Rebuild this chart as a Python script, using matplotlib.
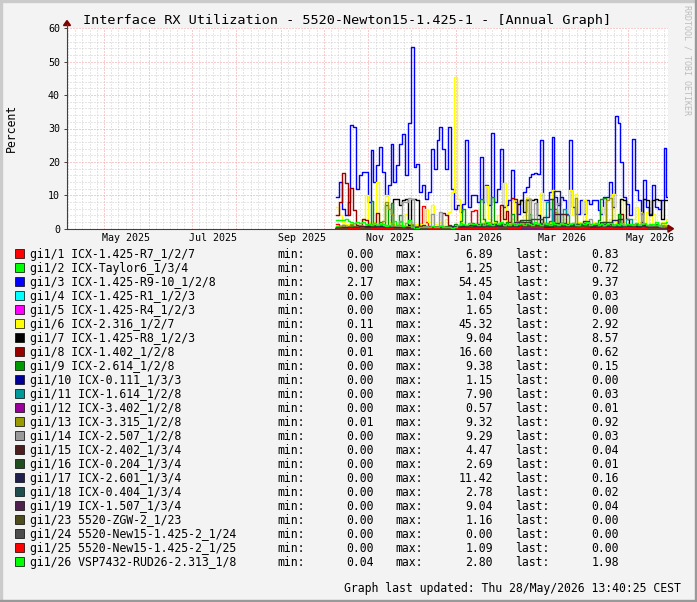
import numpy as np
import matplotlib
matplotlib.use("Agg")
import matplotlib.pyplot as plt
from matplotlib.patches import Rectangle, Polygon
from matplotlib.lines import Line2D
from matplotlib.ticker import MultipleLocator
import matplotlib.dates as mdates

# ---- data ----
series_start = np.datetime64('2025-10-09T12:00')
view_start = np.datetime64('2025-04-05T06:00')
view_end = np.datetime64('2026-05-28T13:40')

# 2-day samples
gi1_1 = [1.5, 0.8, 1.2, 0.5, 0.9, 0.6, 1.1, 0.4, 0.7, 0.5,
         0.8, 0.4, 0.6, 0.9, 0.5, 0.7, 0.4, 0.6, 0.3, 0.5,
         0.4, 0.7, 0.5, 0.3, 0.6, 0.4, 0.5, 0.3, 0.8, 1.5,
         6.89, 2.0, 0.6, 0.4, 0.5, 0.3, 0.4, 0.6, 0.3, 0.5,
         0.4, 0.2, 0.3, 0.5, 0.4, 0.6, 0.8, 5.4, 5.5, 0.7,
         0.5, 0.9, 0.6, 0.4, 0.7, 0.5, 1.0, 0.6, 0.8, 0.5,
         0.7, 1.2, 0.6, 0.9, 0.5, 0.7, 0.4, 0.8, 0.6, 1.1,
         0.5, 0.7, 0.9, 0.6, 0.4, 0.8, 0.5, 0.7, 1.0, 0.6,
         0.4, 0.9, 0.5, 0.7, 0.6, 0.8, 0.5, 0.4, 0.9, 0.6,
         0.7, 0.5, 1.1, 0.6, 0.8, 0.4, 0.7, 0.5, 0.9, 0.6,
         0.8, 0.5, 0.7, 0.4, 0.6, 0.9, 0.5, 0.7, 0.6, 0.8,
         0.5, 0.7, 0.6, 0.9, 0.7, 0.83]
gi1_3 = [9.5, 14, 6, 4, 8, 31, 30.5, 12, 16, 17,
         17, 8, 23.5, 14, 19, 24.5, 17, 10, 13, 25.5,
         14, 19, 25.5, 28.5, 16, 31.5, 54.45, 18.5, 19.5, 11,
         13, 9, 11, 24, 18, 26.5, 30.5, 24, 18, 30.5,
         12, 6, 7, 5, 7.5, 26.5, 6.5, 10, 10, 8,
         21.5, 8, 13, 7, 28.7, 8, 12, 24, 6.5, 7,
         8.5, 17.7, 8, 4.5, 8.5, 11, 12.5, 15.5, 16.5, 16.8,
         16.5, 26.7, 8.5, 8.5, 11, 27.5, 9.5, 7, 9.5, 8.5,
         4.5, 26.5, 6.5, 4.5, 4.5, 8.5, 4.5, 8.5, 7.5, 8.5,
         8.5, 5.5, 4.5, 9.5, 9.5, 14, 6.5, 33.7, 31.5, 20,
         9.5, 7.5, 4, 27, 11.5, 8.5, 4.5, 14.6, 6.5, 4.5,
         13, 6.5, 6, 8.5, 24.3, 9.37]
gi1_6 = [6.6, 4, 2, 1.5, 1, 1, 1, 1, 1, 3,
         10, 2, 1, 2, 14, 1.5, 1, 10, 2, 1.5,
         1.5, 1.5, 1, 1, 4.5, 1.5, 1.5, 1.5, 1.5, 1.5,
         1, 6, 2, 7, 1.5, 1, 2, 1, 3, 5,
         11, 45.32, 9, 2, 1.5, 1, 1, 1, 1, 1,
         3, 2, 12.7, 3, 1.5, 2, 4, 1.5, 13.6, 2,
         1.5, 3, 9, 2, 1.5, 4, 9.5, 2, 1, 3,
         1.5, 10.6, 2, 1, 2, 11.5, 3, 2, 1.5, 3,
         2, 11.5, 4, 10.5, 2, 1.5, 8.5, 2, 1, 2,
         1.5, 1, 6.5, 1.5, 2, 3, 10.5, 2, 1.5, 9,
         2, 1, 1.5, 3, 6.5, 2, 5, 1.5, 5, 1,
         4.5, 1.5, 1, 2, 1.5, 2.92]
gi1_7 = [0.1, 0.2, 0.1, 0.3, 0.1, 0.2, 0.1, 0.2, 0.3, 0.1,
         0.2, 0.1, 0.3, 0.2, 0.1, 0.2, 0.1, 0.3, 0.2, 0.5,
         8.9, 8.8, 7.0, 8.7, 8.8, 1.0, 8.8, 9.04, 8.5, 0.5,
         0.2, 0.1, 0.2, 0.3, 0.1, 0.2, 0.1, 0.0, 0.1, 0.2,
         0.1, 0.2, 0.1, 0.3, 0.2, 0.1, 0.2, 0.1, 0.3, 0.2,
         0.1, 0.2, 0.4, 0.2, 0.1, 0.3, 0.2, 0.5, 0.3, 0.2,
         0.4, 0.6, 1.0, 7.5, 8.5, 5.0, 8.5, 8.8, 8.6, 8.9,
         4.0, 1.0, 0.3, 0.2, 0.4, 0.3, 0.2, 0.5, 0.3, 0.2,
         0.4, 0.3, 0.2, 0.5, 0.3, 0.2, 0.4, 0.3, 0.6, 0.2,
         0.3, 0.4, 0.2, 0.3, 0.5, 0.2, 0.3, 0.4, 1.0, 8.9,
         8.5, 3.0, 0.4, 0.3, 0.5, 0.8, 2.0, 8.8, 8.7, 4.0,
         8.6, 8.9, 8.7, 3.0, 8.6, 8.57]
gi1_8 = [4.0, 8.0, 16.6, 13.6, 4.0, 12.3, 5.6, 1.0, 0.5, 3.0,
         2.5, 0.8, 0.6, 1.2, 4.6, 0.7, 0.5, 0.9, 0.4, 0.6,
         0.3, 0.5, 0.4, 0.2, 0.6, 0.3, 0.4, 0.5, 0.3, 0.8,
         1.2, 0.5, 0.7, 0.4, 0.6, 0.3, 0.9, 4.6, 4.0, 1.0,
         0.5, 0.3, 0.01, 0.4, 0.6, 0.3, 0.5, 1.4, 0.7, 0.4,
         0.9, 0.6, 1.8, 0.5, 0.8, 1.1, 0.6, 7.0, 3.0, 5.4,
         2.0, 9.1, 8.8, 2.0, 0.9, 1.3, 0.6, 0.8, 1.5, 0.7,
         1.0, 0.5, 0.8, 1.2, 0.6, 0.9, 0.5, 0.7, 1.1, 0.6,
         0.8, 0.5, 0.9, 0.6, 1.3, 0.7, 0.5, 0.8, 0.6, 1.0,
         0.5, 0.7, 0.9, 0.6, 0.8, 0.5, 1.2, 0.7, 0.6, 4.5,
         0.9, 0.6, 0.8, 0.5, 0.7, 1.0, 0.6, 0.8, 0.5, 0.9,
         0.7, 0.6, 0.8, 0.5, 0.7, 0.62]
gi1_9 = [0.2, 0.3, 0.5, 0.3, 0.4, 1.2, 0.6, 0.3, 0.8, 0.4,
         0.5, 1.5, 8.3, 0.6, 0.4, 2.1, 0.5, 7.1, 0.8, 7.6,
         0.9, 0.4, 4.0, 0.6, 0.3, 0.5, 1.1, 0.4, 0.3, 0.2,
         0.3, 0.4, 0.6, 0.3, 0.2, 0.5, 0.4, 0.3, 0.6, 0.8,
         0.5, 1.4, 0.7, 2.2, 6.0, 0.9, 0.6, 1.8, 0.7, 1.1,
         8.8, 3.0, 0.8, 1.5, 9.38, 2.4, 0.6, 1.2, 0.9, 2.0,
         0.7, 4.5, 1.0, 0.6, 1.9, 0.8, 1.3, 4.5, 0.7, 1.0,
         0.5, 1.6, 0.8, 0.6, 2.3, 8.8, 6.0, 0.9, 0.7, 1.2,
         0.6, 1.4, 0.8, 0.5, 1.1, 0.7, 1.7, 0.6, 0.9, 1.3,
         0.7, 2.5, 9.0, 9.3, 1.2, 0.8, 0.6, 1.5, 4.5, 0.9,
         0.7, 1.2, 0.6, 0.9, 1.4, 0.5, 0.8, 1.1, 0.6, 0.9,
         0.5, 1.3, 0.7, 0.4, 0.6, 0.15]
gi1_11 = [0.2, 0.1, 0.3, 0.2, 0.1, 0.4, 0.2, 0.1, 0.3, 0.2,
          0.1, 0.2, 0.3, 0.1, 0.2, 0.4, 0.1, 0.2, 0.3, 0.2,
          0.1, 0.2, 0.1, 0.3, 0.2, 0.1, 0.2, 0.3, 0.1, 0.2,
          0.1, 0.2, 0.1, 0.3, 0.1, 0.2, 0.1, 0.2, 0.1, 0.1,
          0.2, 0.1, 0.3, 0.2, 0.4, 0.2, 0.3, 0.5, 0.2, 0.3,
          0.6, 0.2, 0.4, 0.3, 0.8, 0.3, 0.5, 0.2, 0.4, 0.6,
          0.3, 0.5, 0.2, 0.4, 1.2, 0.3, 0.5, 0.4, 0.6, 0.3,
          0.5, 0.4, 1.5, 7.9, 6.0, 0.6, 0.4, 0.3, 0.5, 5.9,
          4.0, 0.4, 0.3, 0.6, 0.4, 0.3, 0.5, 0.4, 0.3, 0.6,
          0.4, 0.3, 0.5, 0.4, 0.3, 0.6, 0.4, 0.3, 0.5, 0.4,
          0.6, 3.0, 3.0, 0.4, 0.3, 0.5, 0.4, 0.3, 0.2, 0.4,
          0.3, 0.2, 0.3, 0.1, 0.2, 0.03]
gi1_13 = [0.5, 0.8, 1.2, 0.6, 0.9, 1.5, 0.7, 0.4, 1.1, 0.6,
          0.8, 0.5, 1.3, 0.7, 1.0, 0.6, 2.2, 8.0, 6.0, 4.5,
          0.8, 0.5, 1.2, 0.7, 0.9, 0.6, 1.4, 0.8, 0.5, 0.3,
          0.4, 0.2, 0.5, 0.3, 0.6, 0.4, 0.3, 0.5, 0.2, 0.4,
          0.3, 0.01, 0.5, 0.8, 1.1, 0.6, 0.9, 1.3, 0.7, 1.0,
          0.6, 1.5, 0.8, 2.0, 0.7, 1.2, 0.9, 1.6, 0.8, 1.1,
          0.7, 1.4, 0.9, 2.3, 1.0, 1.8, 9.0, 1.2, 0.8, 1.5,
          0.9, 1.1, 0.7, 1.6, 1.3, 2.0, 5.0, 1.1, 4.5, 0.9,
          1.2, 0.8, 1.7, 9.1, 1.0, 0.7, 1.3, 0.9, 1.5, 0.8,
          1.1, 0.7, 1.4, 2.1, 8.5, 9.32, 1.0, 0.8, 1.6, 0.9,
          1.2, 0.7, 1.0, 1.4, 0.8, 1.1, 0.6, 1.3, 0.9, 1.0,
          0.7, 1.2, 0.8, 1.0, 0.9, 0.92]
gi1_14 = [0.1, 0.3, 0.2, 0.5, 0.3, 0.2, 0.4, 0.3, 0.6, 0.2,
          0.3, 0.5, 0.4, 0.8, 0.3, 0.6, 0.4, 1.2, 0.5, 0.7,
          0.4, 0.9, 2.0, 8.0, 8.0, 9.29, 9.0, 0.6, 0.4, 0.5,
          0.3, 0.7, 0.5, 4.5, 0.6, 0.4, 5.0, 0.5, 0.3, 0.4,
          0.2, 0.3, 0.5, 0.4, 0.3, 0.6, 0.4, 0.5, 0.3, 0.8,
          0.6, 1.1, 0.5, 0.7, 1.3, 0.6, 0.9, 1.8, 0.7, 1.2,
          0.6, 0.9, 1.5, 0.8, 2.4, 0.7, 1.1, 9.0, 1.6, 7.6,
          0.9, 0.6, 1.3, 0.8, 0.5, 1.0, 0.7, 7.6, 0.9, 0.6,
          1.2, 0.7, 0.5, 0.9, 1.4, 0.6, 0.8, 1.1, 3.0, 0.7,
          0.5, 0.9, 0.6, 1.2, 0.8, 0.5, 0.7, 1.0, 0.6, 0.8,
          0.5, 0.9, 0.7, 1.1, 0.6, 0.8, 4.6, 0.7, 0.5, 0.9,
          0.6, 0.4, 0.7, 0.5, 0.3, 0.03]
gi1_26 = [2.6, 2.7, 2.5, 2.8, 2.2, 2.0, 1.8, 2.1, 1.6, 1.9,
          1.5, 1.4, 1.2, 1.6, 1.1, 1.3, 1.5, 0.9, 1.2, 1.7,
          2.2, 1.0, 2.4, 0.8, 1.6, 2.6, 0.4, 0.04, 0.3, 0.5,
          0.4, 0.6, 0.5, 0.7, 0.6, 0.5, 0.8, 0.6, 0.4, 0.5,
          0.3, 0.4, 1.2, 1.6, 1.4, 1.1, 1.8, 1.3, 1.5, 1.0,
          1.7, 1.2, 2.0, 1.4, 1.1, 1.6, 1.3, 1.9, 1.0, 1.5,
          1.2, 1.8, 1.1, 1.4, 1.6, 1.0, 1.7, 1.3, 1.2, 2.1,
          1.4, 1.0, 1.6, 1.5, 1.1, 1.9, 1.3, 1.2, 1.7, 1.4,
          1.0, 1.5, 1.8, 1.2, 1.1, 1.6, 1.3, 1.9, 1.0, 1.4,
          1.7, 1.2, 1.5, 1.1, 1.3, 1.6, 1.0, 1.4, 1.2, 1.8,
          1.1, 1.5, 1.3, 1.0, 1.6, 1.2, 1.4, 1.7, 1.1, 1.5,
          1.3, 1.9, 1.2, 1.6, 1.8, 1.98]

# 4-day samples
gi1_2 = [0.9, 1.1, 0.8, 1.25, 0.7, 0.9, 0.6, 0.8, 0.5, 0.7,
         0.4, 0.6, 0.3, 0.5, 0.4, 0.6, 0.3, 0.5, 0.4, 0.7,
         0.6, 0.8, 0.5, 0.9, 0.7, 1.0, 0.6, 0.8, 0.7, 1.1,
         0.6, 0.9, 0.7, 0.8, 1.0, 0.6, 0.9, 0.7, 1.1, 0.8,
         0.6, 0.9, 0.7, 1.0, 0.8, 0.6, 0.9, 0.7, 1.0, 0.8,
         0.6, 0.9, 0.7, 0.8, 1.0, 0.7, 0.8, 0.72]
gi1_17 = [0.2, 0.4, 0.3, 0.6, 0.2, 0.5, 0.3, 0.8, 0.4, 0.3,
          0.5, 0.2, 0.4, 0.6, 0.3, 0.5, 0.2, 0.4, 0.3, 0.5,
          0.7, 0.4, 0.9, 0.5, 1.2, 0.6, 0.8, 1.5, 0.7, 1.0,
          0.6, 0.9, 0.5, 1.8, 0.7, 1.1, 0.6, 0.9, 11.42, 0.8,
          0.5, 1.3, 0.7, 0.9, 0.6, 1.1, 0.5, 0.8, 2.5, 0.6,
          0.9, 0.5, 0.7, 1.2, 0.6, 0.4, 0.3, 0.16]
gi1_19 = [0.1, 0.3, 0.2, 0.5, 0.3, 0.2, 0.4, 0.3, 0.2, 0.1,
          0.2, 0.1, 0.3, 0.2, 0.4, 0.3, 0.2, 0.5, 0.3, 0.6,
          0.4, 0.8, 0.5, 1.1, 0.7, 1.4, 0.6, 0.9, 0.5, 1.2,
          0.8, 2.0, 0.7, 1.0, 0.6, 1.5, 3.5, 9.04, 1.2, 0.8,
          0.6, 1.0, 0.7, 2.2, 0.9, 0.6, 1.3, 0.8, 0.5, 3.0,
          0.7, 0.9, 0.5, 0.8, 0.6, 0.4, 0.2, 0.04]

# 8-day samples
gi1_4 = [0.2, 0.4, 0.3, 0.5, 0.2, 0.3, 0.1, 0.2, 0.1, 0.3, 0.2, 0.4, 0.3, 0.6, 0.4,
         1.04, 0.5, 0.3, 0.6, 0.4, 0.3, 0.5, 0.2, 0.4, 0.3, 0.2, 0.3, 0.1, 0.03]
gi1_5 = [0.1, 0.3, 0.2, 0.5, 0.3, 0.2, 0.1, 0.2, 0.1, 0.1, 0.3, 0.2, 0.4, 0.3, 0.6,
         0.4, 1.65, 0.5, 0.3, 0.4, 0.2, 0.3, 0.2, 0.4, 0.3, 0.2, 0.1, 0.1, 0.0]
gi1_10 = [0.1, 0.2, 0.4, 0.3, 0.2, 0.1, 0.1, 0.0, 0.1, 0.2, 0.1, 0.3, 0.2, 0.5, 0.3,
          0.4, 0.2, 1.15, 0.3, 0.2, 0.4, 0.3, 0.2, 0.1, 0.3, 0.2, 0.1, 0.1, 0.0]
gi1_12 = [0.1, 0.2, 0.1, 0.3, 0.2, 0.1, 0.1, 0.0, 0.1, 0.1, 0.2, 0.1, 0.3, 0.2, 0.57,
          0.3, 0.2, 0.1, 0.3, 0.2, 0.1, 0.2, 0.1, 0.2, 0.1, 0.2, 0.1, 0.1, 0.01]
gi1_15 = [0.3, 0.5, 0.8, 0.4, 0.6, 0.3, 0.2, 0.1, 0.2, 0.4, 0.3, 0.6, 1.5, 0.8, 1.2,
          0.7, 2.1, 0.9, 0.6, 4.47, 1.0, 0.7, 0.5, 1.3, 0.8, 0.6, 0.9, 0.4, 0.04]
gi1_16 = [0.2, 0.5, 0.3, 0.8, 0.4, 0.2, 0.1, 0.1, 0.2, 0.3, 0.5, 0.4, 0.9, 0.6, 1.4,
          0.8, 2.69, 1.1, 0.7, 1.6, 0.9, 1.3, 0.6, 2.0, 0.8, 0.5, 0.7, 0.3, 0.01]
gi1_18 = [0.1, 0.3, 0.2, 0.6, 0.3, 0.1, 0.1, 0.0, 0.2, 0.3, 0.2, 0.5, 0.4, 0.9, 0.6,
          1.2, 0.8, 2.78, 1.0, 0.7, 1.5, 0.8, 1.1, 0.6, 0.9, 0.4, 0.3, 0.2, 0.02]
gi1_23 = [0.1, 0.2, 0.1, 0.3, 0.2, 0.1, 0.0, 0.0, 0.1, 0.2, 0.1, 0.3, 0.2, 0.4, 0.3,
          0.6, 0.4, 0.8, 1.16, 0.5, 0.4, 0.7, 0.3, 0.5, 0.2, 0.4, 0.2, 0.1, 0.0]
gi1_24 = [0.0, 0.0, 0.0, 0.0, 0.0, 0.0, 0.0, 0.0, 0.0, 0.0, 0.0, 0.0, 0.0, 0.0, 0.0,
          0.0, 0.0, 0.0, 0.0, 0.0, 0.0, 0.0, 0.0, 0.0, 0.0, 0.0, 0.0, 0.0, 0.0]
gi1_25 = [0.0, 0.1, 0.0, 0.2, 0.1, 0.0, 0.0, 0.0, 0.1, 0.0, 0.2, 0.1, 0.3, 0.2, 0.5,
          0.3, 1.09, 0.4, 0.2, 0.3, 0.1, 0.2, 0.1, 0.3, 0.1, 0.2, 0.1, 0.0, 0.0]

ports = ['gi1/1', 'gi1/2', 'gi1/3', 'gi1/4', 'gi1/5', 'gi1/6', 'gi1/7', 'gi1/8',
         'gi1/9', 'gi1/10', 'gi1/11', 'gi1/12', 'gi1/13', 'gi1/14', 'gi1/15',
         'gi1/16', 'gi1/17', 'gi1/18', 'gi1/19', 'gi1/23', 'gi1/24', 'gi1/25', 'gi1/26']
descr = ['ICX-1.425-R7_1/2/7', 'ICX-Taylor6_1/3/4', 'ICX-1.425-R9-10_1/2/8',
         'ICX-1.425-R1_1/2/3', 'ICX-1.425-R4_1/2/3', 'ICX-2.316_1/2/7',
         'ICX-1.425-R8_1/2/3', 'ICX-1.402_1/2/8', 'ICX-2.614_1/2/8',
         'ICX-0.111_1/3/3', 'ICX-1.614_1/2/8', 'ICX-3.402_1/2/8',
         'ICX-3.315_1/2/8', 'ICX-2.507_1/2/8', 'ICX-2.402_1/3/4',
         'ICX-0.204_1/3/4', 'ICX-2.601_1/3/4', 'ICX-0.404_1/3/4',
         'ICX-1.507_1/3/4', '5520-ZGW-2_1/23', '5520-New15-1.425-2_1/24',
         '5520-New15-1.425-2_1/25', 'VSP7432-RUD26-2.313_1/8']
colors = ['#ff0000', '#00ff00', '#0000ff', '#00ffff', '#ff00ff', '#ffff00', '#000000',
          '#990000', '#009900', '#000099', '#009999', '#990099', '#999900', '#999999',
          '#4d2020', '#204d20', '#20204d', '#204d4d', '#4d204d', '#4d4d20', '#4d4d4d',
          '#ff0000', '#00ff00']
stat_min = ['0.00', '0.00', '2.17', '0.00', '0.00', '0.11', '0.00', '0.01', '0.00', '0.00',
            '0.00', '0.00', '0.01', '0.00', '0.00', '0.00', '0.00', '0.00', '0.00', '0.00',
            '0.00', '0.00', '0.04']
stat_max = ['6.89', '1.25', '54.45', '1.04', '1.65', '45.32', '9.04', '16.60', '9.38', '1.15',
            '7.90', '0.57', '9.32', '9.29', '4.47', '2.69', '11.42', '2.78', '9.04', '1.16',
            '0.00', '1.09', '2.80']
stat_last = ['0.83', '0.72', '9.37', '0.03', '0.00', '2.92', '8.57', '0.62', '0.15', '0.00',
             '0.03', '0.01', '0.92', '0.03', '0.04', '0.01', '0.16', '0.02', '0.04', '0.00',
             '0.00', '0.00', '1.98']
values = [gi1_1, gi1_2, gi1_3, gi1_4, gi1_5, gi1_6, gi1_7, gi1_8, gi1_9, gi1_10, gi1_11,
          gi1_12, gi1_13, gi1_14, gi1_15, gi1_16, gi1_17, gi1_18, gi1_19, gi1_23, gi1_24,
          gi1_25, gi1_26]
step_days = [2, 4, 2, 8, 8, 2, 2, 2, 2, 8, 2, 8, 2, 2, 8, 8, 4, 8, 4, 8, 8, 8, 2]

x_labels = ['May 2025', 'Jul 2025', 'Sep 2025', 'Nov 2025', 'Jan 2026', 'Mar 2026', 'May 2026']
x_label_pos = ['2025-05-16', '2025-07-16', '2025-09-16', '2025-11-16',
               '2026-01-16', '2026-03-16', '2026-05-16']

title = 'Interface RX Utilization - 5520-Newton15-1.425-1 - [Annual Graph]'
footer = 'Graph last updated: Thu 28/May/2026 13:40:25 CEST'

# ---- layout (pixel based, like rrdtool) ----
W, H = 697, 602
MONO = 'DejaVu Sans Mono'
plt.rcParams['font.family'] = MONO

def fx(px):
    return px / W

def fy(py):
    return 1 - py / H

fig = plt.figure(figsize=(W / 100, H / 100), dpi=100, facecolor='#f3f3f3')
x0, x1, ytop, ybot = 67, 668, 28.3, 228.7
ax = fig.add_axes([fx(x0), fy(ybot), (x1 - x0) / W, (ybot - ytop) / H])
ax.set_facecolor('white')

for vals, step, col in zip(values, step_days, colors):
    n = len(vals)
    t = series_start + np.arange(n + 1) * np.timedelta64(step * 24, 'h')
    v = list(vals) + [vals[-1]]
    ax.step(t, v, where='post', color=col, lw=1.0, zorder=3)

ax.set_xlim(view_start, view_end)
ax.set_ylim(0, 60)

# grid
ax.yaxis.set_major_locator(MultipleLocator(10))
ax.yaxis.set_minor_locator(MultipleLocator(2))
ax.xaxis.set_major_locator(mdates.MonthLocator())
ax.xaxis.set_minor_locator(mdates.DayLocator(bymonthday=[6, 11, 16, 21, 26]))
ax.set_axisbelow(True)
ax.grid(which='minor', color='#cfcfcf', ls=(0, (1, 2)), lw=0.72)
ax.grid(which='major', color='#f09a9a', ls=(0, (1, 2)), lw=0.72)
ax.set_xticklabels([])
ax.tick_params(axis='x', which='both', length=0)
ax.tick_params(axis='y', which='major', length=2, width=0.7, color='#404040',
               labelsize=7.2, pad=3)
ax.tick_params(axis='y', which='minor', length=0)
for s in ['top', 'right']:
    ax.spines[s].set_visible(False)
for s in ['left', 'bottom']:
    ax.spines[s].set_color('#404040')
    ax.spines[s].set_linewidth(0.8)
    ax.spines[s].set_zorder(4)

for lab, pos in zip(x_labels, x_label_pos):
    ax.text(np.datetime64(pos), -(240.7 - ybot) / (ybot - ytop), lab,
            transform=ax.get_xaxis_transform(), ha='center', va='baseline',
            fontsize=7.2, family=MONO)

# axis extensions and arrows
fig.add_artist(Line2D([fx(x0), fx(x0)], [fy(ytop), fy(24)], color='#404040', lw=0.8))
fig.add_artist(Line2D([fx(x1), fx(670)], [fy(ybot), fy(ybot)], color='#404040', lw=0.8))
fig.add_artist(Polygon([[fx(63.5), fy(25.5)], [fx(70.5), fy(25.5)], [fx(67), fy(20.5)]],
                       closed=True, color='#800000', transform=fig.transFigure))
fig.add_artist(Polygon([[fx(668), fy(ybot - 3.5)], [fx(668), fy(ybot + 3.5)], [fx(673.5), fy(ybot)]],
                       closed=True, color='#800000', transform=fig.transFigure))

# texts
fig.text(fx(347.5), fy(24), title, ha='center', va='baseline', fontsize=9.7, family=MONO)
fig.text(fx(11), fy(127.5), 'Percent', rotation=90, ha='center', va='center',
         fontsize=8.3, family=MONO)
fig.text(fx(687.5), fy(60), 'RRDTOOL / TOBI OETIKER', rotation=270, ha='center',
         va='center', fontsize=6, color='#bdbdbd', family=MONO)

# legend table
for k in range(len(ports)):
    base = 258.3 + 14 * k
    fig.add_artist(Rectangle((fx(15), fy(base)), 9 / W, 9 / H, facecolor=colors[k],
                             edgecolor='#000000', lw=0.5, transform=fig.transFigure))
    kw = dict(va='baseline', fontsize=8.3, family=MONO)
    fig.text(fx(30), fy(base), ports[k] + ' ' + descr[k], ha='left', **kw)
    fig.text(fx(277), fy(base), 'min:', ha='left', **kw)
    fig.text(fx(374), fy(base), stat_min[k], ha='right', **kw)
    fig.text(fx(395.5), fy(base), 'max:', ha='left', **kw)
    fig.text(fx(493), fy(base), stat_max[k], ha='right', **kw)
    fig.text(fx(515), fy(base), 'last:', ha='left', **kw)
    fig.text(fx(619), fy(base), stat_last[k], ha='right', **kw)

fig.text(fx(681), fy(591.7), footer, ha='right', va='baseline', fontsize=8.3, family=MONO)

# frame shading
fig.add_artist(Rectangle((0, 0), 2 / W, 1, color='#cbcbcb', transform=fig.transFigure))
fig.add_artist(Rectangle((0, 1 - 2 / H), 1, 2 / H, color='#cbcbcb', transform=fig.transFigure))
fig.add_artist(Rectangle((1 - 2 / W, 0), 2 / W, 1, color='#999999', transform=fig.transFigure))
fig.add_artist(Rectangle((0, 0), 1, 2 / H, color='#999999', transform=fig.transFigure))

fig.savefig('out.png', dpi=100, facecolor=fig.get_facecolor())
